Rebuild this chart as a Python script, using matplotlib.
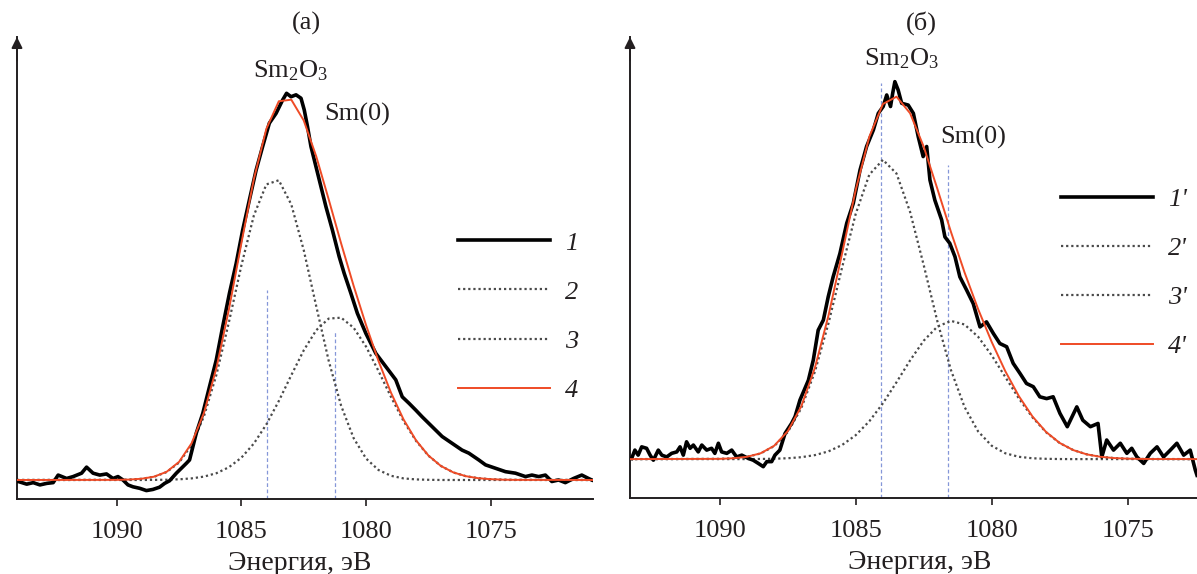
import matplotlib
matplotlib.use("Agg")
import matplotlib.pyplot as plt

plt.rcParams['font.family'] = ['Liberation Serif', 'DejaVu Serif']
plt.rcParams['mathtext.fontset'] = 'custom'
plt.rcParams['mathtext.rm'] = 'Liberation Serif'
plt.rcParams['mathtext.it'] = 'Liberation Serif:italic'

# ---------------- data: panel (а) ----------------
data_E_a = [1093.95, 1093.61, 1093.35, 1093.08, 1092.81, 1092.55, 1092.35, 1092.01, 1091.75, 1091.41,
            1091.21, 1090.95, 1090.68, 1090.41, 1090.15, 1089.95, 1089.75, 1089.55, 1089.35, 1089.08,
            1088.81, 1088.55, 1088.28, 1088.08, 1087.88, 1087.61, 1087.41, 1087.21, 1087.08, 1086.81,
            1086.55, 1086.28, 1086.01, 1085.75, 1085.48, 1085.21, 1084.95, 1084.68, 1084.41, 1084.15,
            1083.88, 1083.61, 1083.35, 1083.19, 1083.01, 1082.81, 1082.61, 1082.48, 1082.35, 1082.21,
            1082.01, 1081.81, 1081.61, 1081.35, 1081.08, 1080.88, 1080.61, 1080.35, 1080.01, 1079.61,
            1079.21, 1078.81, 1078.55, 1078.28, 1078.01, 1077.75, 1077.35, 1076.95, 1076.55, 1076.15,
            1075.88, 1075.48, 1075.21, 1074.81, 1074.41, 1074.01, 1073.61, 1073.35, 1073.08, 1072.81,
            1072.55, 1072.28, 1072.01, 1071.68, 1071.35, 1071.08, 1070.95]
data_I_a = [-0.004, -0.011, -0.007, -0.013, -0.009, -0.007, 0.013, 0.004, 0.009, 0.018,
            0.034, 0.018, 0.013, 0.016, 0.004, 0.009, 0.000, -0.013, -0.018, -0.022,
            -0.028, -0.025, -0.019, -0.009, -0.002, 0.018, 0.031, 0.044, 0.053, 0.124,
            0.176, 0.247, 0.317, 0.406, 0.494, 0.573, 0.661, 0.741, 0.820, 0.882,
            0.944, 0.970, 1.005, 1.023, 1.014, 1.019, 1.010, 0.979, 0.935, 0.882,
            0.829, 0.776, 0.723, 0.661, 0.591, 0.547, 0.494, 0.441, 0.388, 0.335,
            0.300, 0.265, 0.220, 0.203, 0.185, 0.167, 0.141, 0.115, 0.097, 0.079,
            0.071, 0.053, 0.040, 0.031, 0.022, 0.018, 0.009, 0.013, 0.009, 0.013,
            -0.004, 0.000, -0.007, 0.004, 0.013, 0.004, 0.000]

fit_E_a = [1094.0, 1090.0, 1089.5, 1089.0, 1088.5, 1088.0, 1087.5, 1087.0, 1086.5, 1086.0,
           1085.5, 1085.0, 1084.5, 1084.0, 1083.5, 1083.0, 1082.5, 1082.0, 1081.5, 1081.0,
           1080.5, 1080.0, 1079.5, 1079.0, 1078.5, 1078.0, 1077.5, 1077.0, 1076.5, 1076.0,
           1075.5, 1075.0, 1074.5, 1074.0, 1070.9]
comp2_a = [0.0, 0.0003, 0.0011, 0.0032, 0.0085, 0.0209, 0.0461, 0.0927, 0.1689, 0.2789,
           0.4179, 0.568, 0.700, 0.782, 0.793, 0.729, 0.608, 0.460, 0.3155, 0.1962,
           0.1108, 0.0567, 0.0263, 0.0111, 0.0042, 0.0015, 0.0005, 0.0, 0.0, 0.0,
           0.0, 0.0, 0.0, 0.0, 0.0]
comp3_a = [0.0, 0.0, 0.0, 0.0, 0.0003, 0.0007, 0.0018, 0.0042, 0.0090, 0.0180,
           0.0338, 0.0591, 0.0965, 0.1470, 0.2090, 0.2772, 0.3431, 0.3962, 0.4270, 0.4294,
           0.4029, 0.3527, 0.2881, 0.2196, 0.1562, 0.1037, 0.0642, 0.0371, 0.0200, 0.0101,
           0.0047, 0.0021, 0.0008, 0.0003, 0.0]
fit_a = [0.0, 0.0003, 0.0011, 0.0033, 0.0088, 0.0216, 0.0479, 0.0969, 0.1779, 0.2969,
         0.4517, 0.6271, 0.7965, 0.9290, 1.0020, 1.0062, 0.9511, 0.8562, 0.7425, 0.6256,
         0.5137, 0.4094, 0.3144, 0.2307, 0.1604, 0.1052, 0.0647, 0.0371, 0.0200, 0.0101,
         0.0047, 0.0021, 0.0008, 0.0003, 0.0]
peak_E_a = [1083.97, 1081.25]
peak_top_a = [0.503, 0.392]

# ---------------- data: panel (б) ----------------
data_E_b = [1093.24, 1093.12, 1093.00, 1092.87, 1092.69, 1092.56, 1092.44, 1092.26, 1092.13, 1091.95,
            1091.77, 1091.58, 1091.46, 1091.34, 1091.22, 1091.09, 1090.97, 1090.79, 1090.66, 1090.48,
            1090.30, 1090.18, 1090.05, 1089.93, 1089.74, 1089.56, 1089.38, 1089.19, 1088.95, 1088.77,
            1088.58, 1088.40, 1088.27, 1088.09, 1087.97, 1087.79, 1087.60, 1087.36, 1087.23, 1087.05,
            1086.74, 1086.56, 1086.38, 1086.19, 1086.01, 1085.83, 1085.58, 1085.33, 1085.09, 1084.84,
            1084.60, 1084.35, 1084.17, 1083.99, 1083.86, 1083.72, 1083.64, 1083.56, 1083.44, 1083.31,
            1083.07, 1082.88, 1082.70, 1082.52, 1082.39, 1082.27, 1082.09, 1081.84, 1081.72, 1081.54,
            1081.35, 1081.17, 1080.92, 1080.68, 1080.43, 1080.19, 1079.94, 1079.70, 1079.45, 1079.21,
            1078.96, 1078.72, 1078.47, 1078.23, 1077.98, 1077.74, 1077.49, 1077.22, 1076.87, 1076.65,
            1076.37, 1076.09, 1075.95, 1075.77, 1075.52, 1075.27, 1075.03, 1074.85, 1074.66, 1074.41,
            1074.17, 1073.92, 1073.68, 1073.43, 1073.19, 1072.94, 1072.70, 1072.51, 1072.45]
data_I_b = [0.002, 0.025, 0.011, 0.034, 0.030, 0.011, -0.003, 0.025, 0.011, 0.006,
            0.016, 0.020, 0.034, 0.011, 0.048, 0.030, 0.039, 0.020, 0.039, 0.025,
            0.030, 0.016, 0.044, 0.020, 0.016, 0.025, 0.006, 0.011, 0.002, -0.003,
            -0.012, -0.021, -0.007, -0.007, 0.011, 0.025, 0.071, 0.099, 0.118, 0.164,
            0.219, 0.275, 0.358, 0.386, 0.451, 0.506, 0.571, 0.655, 0.710, 0.803,
            0.868, 0.914, 0.960, 0.979, 1.011, 0.979, 1.016, 1.048, 1.025, 0.988,
            0.983, 0.960, 0.895, 0.840, 0.868, 0.775, 0.719, 0.664, 0.617, 0.599,
            0.562, 0.506, 0.469, 0.432, 0.367, 0.381, 0.349, 0.321, 0.312, 0.266,
            0.238, 0.210, 0.201, 0.173, 0.168, 0.173, 0.127, 0.090, 0.145, 0.108,
            0.090, 0.099, 0.006, 0.053, 0.025, 0.044, 0.016, 0.030, 0.006, -0.012,
            0.016, 0.034, 0.006, 0.025, 0.044, 0.011, 0.025, -0.031, -0.045]

fit_E_b = [1093.3, 1090.0, 1089.5, 1089.0, 1088.5, 1088.0, 1087.5, 1087.0, 1086.5, 1086.0,
           1085.5, 1085.0, 1084.5, 1084.0, 1083.5, 1083.0, 1082.5, 1082.0, 1081.5, 1081.0,
           1080.5, 1080.0, 1079.5, 1079.0, 1078.5, 1078.0, 1077.5, 1077.0, 1076.5, 1076.0,
           1075.5, 1075.0, 1074.5, 1074.0, 1072.45]
comp2_b = [0.0, 0.0007, 0.0022, 0.0062, 0.0156, 0.0359, 0.0749, 0.1416, 0.2427, 0.3775,
           0.5323, 0.6809, 0.7899, 0.8310, 0.7929, 0.6862, 0.5387, 0.3834, 0.2476, 0.1450,
           0.0770, 0.0371, 0.0162, 0.0064, 0.0023, 0.0008, 0.0002, 0.0, 0.0, 0.0,
           0.0, 0.0, 0.0, 0.0, 0.0]
comp3_b = [0.0, 0.0, 0.0, 0.0, 0.0004, 0.0010, 0.0024, 0.0053, 0.0111, 0.0215,
           0.0392, 0.0664, 0.1050, 0.1549, 0.2134, 0.2741, 0.3287, 0.3677, 0.3838, 0.3738,
           0.3398, 0.2882, 0.2280, 0.1683, 0.1160, 0.0746, 0.0447, 0.0250, 0.0131, 0.0064,
           0.0029, 0.0012, 0.0005, 0.0002, 0.0]
fit_b = [0.0, 0.0007, 0.0023, 0.0064, 0.0160, 0.0369, 0.0773, 0.1469, 0.2538, 0.3990,
         0.5715, 0.7473, 0.8949, 0.9859, 1.0063, 0.9603, 0.8674, 0.7511, 0.6314, 0.5188,
         0.4168, 0.3253, 0.2442, 0.1747, 0.1183, 0.0754, 0.0449, 0.0250, 0.0131, 0.0064,
         0.0029, 0.0012, 0.0005, 0.0002, 0.0]
peak_E_b = [1084.08, 1081.60]
peak_top_b = [1.044, 0.817]

xticks = [1090, 1085, 1080, 1075]
xlabel = 'Энергия, эВ'
titles = ['(а)', '(б)']
legend_a = ['1', '2', '3', '4']
legend_b = ["1'", "2'", "3'", "4'"]

# ---------------- styling ----------------
INK = '#231f20'
RED = '#ef4b26'
DOT = '#4a4a4a'
BLUE = '#8597d8'
FS = 19
W, H = 1197, 574

fig = plt.figure(figsize=(W / 100, H / 100), dpi=100)


def add_ax(l, r, b, t):
    return fig.add_axes([l / W, 1 - b / H, (r - l) / W, (b - t) / H])


def draw(ax, dE, dI, fE, c2, c3, fit, pE, pTop, xlim, ylim, legl, leg_anchor, lab_x, title, title_xy,
         ann):
    ax.set_xlim(*xlim)
    ax.set_ylim(*ylim)
    ax.vlines(pE, ylim[0], pTop, colors=BLUE, linestyles=(0, (3, 2)), lw=0.9, zorder=1)
    l2, = ax.plot(fE, c2, color=DOT, lw=1.6, ls=(0, (1, 1.3)), zorder=2)
    l3, = ax.plot(fE, c3, color=DOT, lw=1.6, ls=(0, (1, 1.3)), zorder=2)
    l1, = ax.plot(dE, dI, color='black', lw=2.6, solid_joinstyle='round', zorder=3)
    l4, = ax.plot(fE, fit, color=RED, lw=1.4, zorder=4)
    for s in ('top', 'right'):
        ax.spines[s].set_visible(False)
    for s in ('left', 'bottom'):
        ax.spines[s].set_linewidth(1.4)
        ax.spines[s].set_color(INK)
    ax.set_yticks([])
    ax.set_xticks(xticks)
    ax.set_xticklabels([str(t) for t in xticks])
    ax.tick_params(axis='x', direction='out', length=5, width=1.2, color=INK,
                   labelsize=FS, labelcolor=INK, pad=10.5)
    ax.set_xlabel(xlabel, fontsize=20, color=INK)
    ax.xaxis.set_label_coords(lab_x, -0.113)
    ax.annotate('', xy=(0, 1.0), xytext=(0, 0.95), xycoords='axes fraction',
                arrowprops=dict(arrowstyle='-|>', color=INK, lw=1.4, mutation_scale=16,
                                shrinkA=0, shrinkB=0))
    fig.text(title_xy[0] / W, 1 - title_xy[1] / H, title, ha='center', va='center',
             fontsize=FS, color=INK)
    for (tx, ty, s) in ann:
        ax.text(tx, ty, s, ha='center', va='baseline', fontsize=FS, color=INK)
    ax.legend([l1, l2, l3, l4], legl, loc='center left',
              bbox_to_anchor=(leg_anchor[0] / W, 1 - leg_anchor[1] / H),
              bbox_transform=fig.transFigure, frameon=False, handlelength=3.5,
              handletextpad=0.55, labelspacing=0.97, borderpad=0, borderaxespad=0,
              prop={'family': 'Liberation Serif', 'style': 'italic', 'size': FS},
              labelcolor=INK)


axa = add_ax(17, 593, 499, 37)
draw(axa, data_E_a, data_I_a, fit_E_a, comp2_a, comp3_a, fit_a, peak_E_a, peak_top_a,
     (1094.0, 1070.9), (-0.0503, 1.172), legend_a, (458, 316.5), 0.491, titles[0], (306, 23),
     [(1083.04, 1.065, r'Sm$_2$O$_3$'), (1080.34, 0.951, 'Sm(0)')])

axb = add_ax(630, 1197, 498, 37)
draw(axb, data_E_b, data_I_b, fit_E_b, comp2_b, comp3_b, fit_b, peak_E_b, peak_top_b,
     (1093.3, 1072.45), (-0.108, 1.172), legend_b, (1061, 273), 0.511, titles[1], (921, 23),
     [(1083.3, 1.094, r'Sm$_2$O$_3$'), (1080.69, 0.877, 'Sm(0)')])

fig.savefig('out.png', dpi=100)
